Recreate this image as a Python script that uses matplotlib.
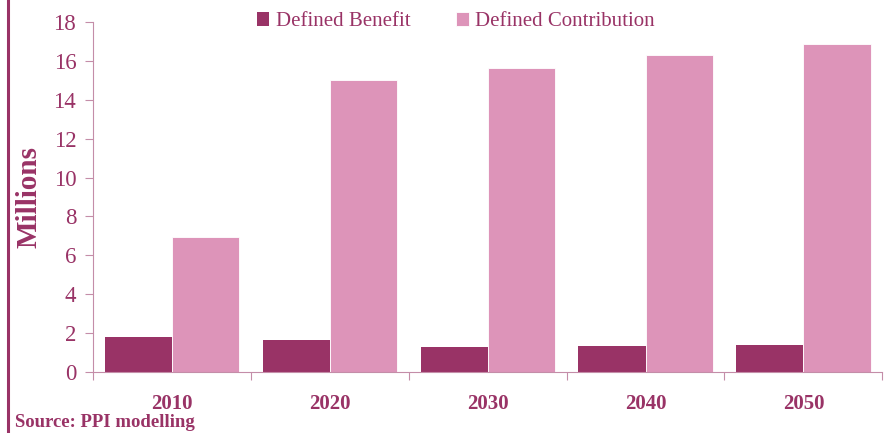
import matplotlib.pyplot as plt
import numpy as np
from matplotlib.lines import Line2D

# data
years = ["2010", "2020", "2030", "2040", "2050"]
defined_benefit = [1.8, 1.65, 1.3, 1.35, 1.4]
defined_contribution = [6.95, 15.0, 15.65, 16.3, 16.85]

dark = "#993366"
pink = "#DD94B9"
axcol = "#C48DA8"

plt.rcParams['font.family'] = ['Liberation Serif', 'DejaVu Serif']

fig = plt.figure(figsize=(8.85, 4.33), dpi=100)
ax = fig.add_axes([0.105, 0.141, 0.892, 0.808])

x = np.arange(len(years))
w = 0.425
ax.bar(x - w / 2, defined_benefit, w, color=dark, label="Defined Benefit")
ax.bar(x + w / 2, defined_contribution, w, color=pink, edgecolor="white",
       linewidth=0.6, label="Defined Contribution")

ax.set_xlim(-0.5, len(years) - 0.5)
ax.set_ylim(0, 18)
ax.set_yticks(range(0, 19, 2))
ax.tick_params(axis='y', colors=axcol, labelcolor=dark, labelsize=16.5, length=6, pad=6)

# category ticks at group boundaries, labels centred under the groups
ax.set_xticks(np.arange(-0.5, len(years), 1))
ax.set_xticklabels([])
ax.tick_params(axis='x', colors=axcol, length=6, direction='out')
for i, yr in enumerate(years):
    ax.text(i, -1.15, yr, ha='center', va='top', fontsize=15, fontweight='bold',
            color=dark)

for s in ['top', 'right']:
    ax.spines[s].set_visible(False)
ax.spines['left'].set_color(axcol)
ax.spines['bottom'].set_color(axcol)

ax.set_ylabel("Millions", fontsize=21, fontweight='bold', color=dark, labelpad=8)

fig.legend(loc='upper center', bbox_to_anchor=(0.515, 1.015), ncol=2, frameon=False,
           fontsize=15, labelcolor=dark, handlelength=0.6, handleheight=0.6,
           handletextpad=0.3, columnspacing=2.2)

fig.text(0.017, 0.004, "Source: PPI modelling", fontsize=13.5, fontweight='bold',
         color=dark, ha='left', va='bottom')

fig.add_artist(Line2D([0.009, 0.009], [0, 1], color=dark, linewidth=2.2,
                      transform=fig.transFigure))

fig.savefig("out.png", dpi=100)
